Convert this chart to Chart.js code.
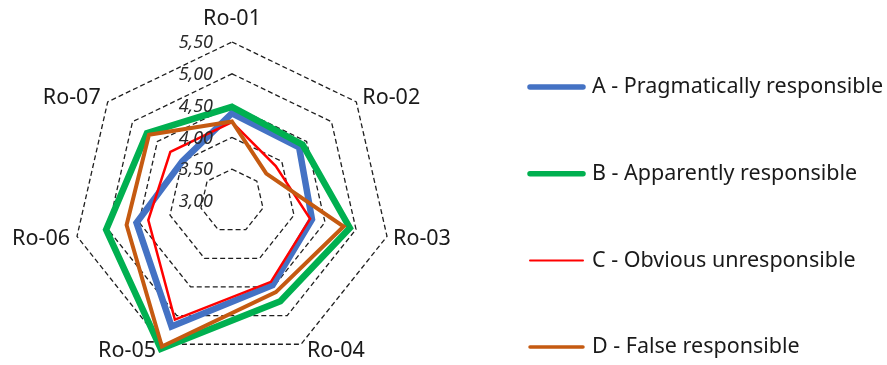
<!DOCTYPE html>
<html>
<head>
<meta charset="utf-8">
<script src="https://cdn.jsdelivr.net/npm/chart.js@4.4.0/dist/chart.umd.min.js"></script>
<style>
  html, body { margin: 0; padding: 0; background: #fff; }
  #wrap { width: 887px; height: 365px; position: relative; }
</style>
</head>
<body>
<div id="wrap"><canvas id="myChart"></canvas></div>
<script>
let labels = ['Ro-01', 'Ro-02', 'Ro-03', 'Ro-04', 'Ro-05', 'Ro-06', 'Ro-07'];
let seriesNames = ['A - Pragmatically responsible', 'B - Apparently responsible', 'C - Obvious unresponsible', 'D - False responsible'];
let dataA = [4.38, 4.35, 4.29, 4.47, 5.19, 4.54, 4.00];
let dataB = [4.48, 4.42, 4.90, 4.75, 5.58, 5.03, 4.71];
let dataC = [4.24, 3.88, 4.26, 4.41, 5.07, 4.35, 4.24];
let dataD = [4.25, 3.69, 4.80, 4.59, 5.54, 4.70, 4.67];
let tickValues = [3.00, 3.50, 4.00, 4.50, 5.00, 5.50];

let colors = ['#4472C4', '#00B050', '#FF0000', '#C55A11'];
let widths = [6.5, 6.5, 2.5, 4];
let legendWidths = [5.5, 5.5, 2, 3.5];
let allData = [dataA, dataB, dataC, dataD];

const labelFont = '21.5px "Noto Sans"';

// tick labels, axis labels and the legend, laid out like the Excel original
const extrasPlugin = {
  id: 'extras',
  afterDraw(chart) {
    const scale = chart.scales.r;
    const ctx = chart.ctx;
    ctx.save();

    // value labels left of the vertical axis
    ctx.font = 'italic 18px "Noto Sans"';
    ctx.fillStyle = '#2a2a2a';
    ctx.textAlign = 'right';
    ctx.textBaseline = 'middle';
    tickValues.forEach(v => {
      const d = scale.getDistanceFromCenterForValue(v);
      ctx.fillText(v.toFixed(2).replace('.', ','), scale.xCenter - 19, scale.yCenter - d + 1);
    });

    // category labels next to the outer ring vertices
    ctx.font = labelFont;
    ctx.fillStyle = '#1a1a1a';
    labels.forEach((lab, i) => {
      const p = scale.getPointPosition(i, scale.drawingArea);
      const dx = p.x - scale.xCenter;
      const dy = p.y - scale.yCenter;
      let x = p.x, y = p.y;
      if (Math.abs(dx) < 1) {
        ctx.textAlign = 'center';
        y -= 23;
      } else if (dx > 0) {
        ctx.textAlign = 'left';
        x += 6;
      } else {
        ctx.textAlign = 'right';
        x -= 7;
      }
      if (Math.abs(dx) >= 1) {
        y += dy > 100 ? 7 : (dy > 0 ? 2 : -4);
      }
      ctx.fillText(lab, x, y);
    });

    // legend
    const lx0 = 530, lx1 = 583, tx = 592, ly0 = 87, lstep = 86.7;
    chart.data.datasets.forEach((ds, i) => {
      const y = ly0 + i * lstep;
      ctx.beginPath();
      ctx.strokeStyle = ds.borderColor;
      ctx.lineWidth = legendWidths[i];
      ctx.lineCap = 'round';
      ctx.moveTo(lx0, y);
      ctx.lineTo(lx1, y);
      ctx.stroke();
      ctx.font = labelFont;
      ctx.fillStyle = '#1a1a1a';
      ctx.textAlign = 'left';
      ctx.textBaseline = 'middle';
      ctx.fillText(ds.label, tx, y);
    });
    ctx.restore();
  }
};

let ctx = document.getElementById('myChart').getContext('2d');

let chart = new Chart(ctx, {
  type: 'radar',
  data: {
    labels: labels,
    datasets: allData.map((d, i) => ({
      label: seriesNames[i],
      data: d,
      borderColor: colors[i],
      backgroundColor: colors[i],
      borderWidth: widths[i],
      fill: false,
      clip: false,
      pointRadius: 0,
      pointHoverRadius: 0,
      order: 4 - i
    }))
  },
  options: {
    responsive: true,
    maintainAspectRatio: false,
    animation: false,
    // chart area is a 318px square so the radar ends up centred at (232,201), radius 159
    layout: { padding: { left: 73, right: 496, top: 42, bottom: 5 } },
    plugins: {
      tooltip: { enabled: false },
      legend: { display: false }
    },
    scales: {
      r: {
        min: 3,
        max: 5.5,
        ticks: { display: false, stepSize: 0.5 },
        angleLines: { display: false },
        grid: { color: '#1f1f1f', lineWidth: 1.3 },
        border: { dash: [5, 3] },
        pointLabels: { display: false }
      }
    }
  },
  plugins: [extrasPlugin]
});
</script>
</body>
</html>
